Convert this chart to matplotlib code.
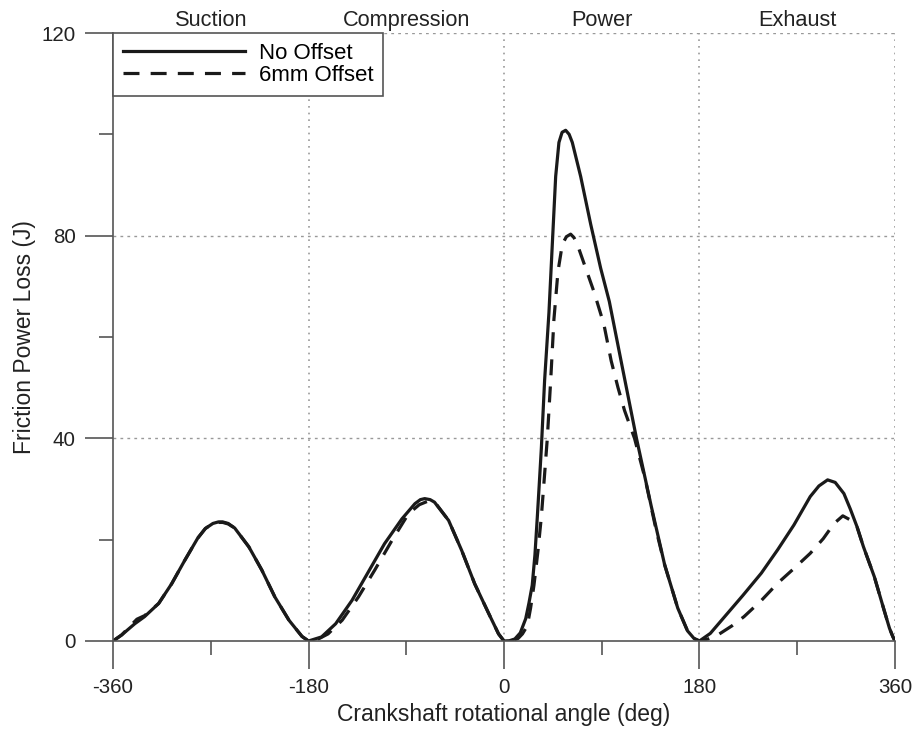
import numpy as np
import matplotlib
matplotlib.use('Agg')
import matplotlib.pyplot as plt
from matplotlib.ticker import MultipleLocator

plt.rcParams['font.family'] = ['Liberation Sans', 'DejaVu Sans']
plt.rcParams['axes.unicode_minus'] = False

# crank angle (deg) and friction power loss (J)
no_offset_deg = [-360, -352, -340, -331, -318, -306, -294, -282, -275, -268, -263, -259, -254, -248, -235, -223, -211, -198, -186, -180,
                 -168, -155, -140, -125, -110, -94, -82, -77, -73, -68, -64, -51, -39, -27, -14, -5, 0,
                 5, 10, 15, 20, 23, 26, 28.5, 30.7, 32.5, 34.4, 37.4, 41.4, 44.5, 47.6, 50.6, 53.5, 56.8, 60, 62.9,
                 70.6, 79.8, 89, 97, 109, 122, 135.5, 148, 160, 169, 175, 180,
                 190, 206, 220, 237, 252, 267, 282, 290, 298, 305, 313, 319, 325, 331, 341, 350, 355, 358, 360]
no_offset_val = [0, 1.2, 3.4, 4.8, 7.4, 11.3, 15.9, 20.3, 22.2, 23.2, 23.5, 23.5, 23.2, 22.3, 18.6, 14.0, 8.7, 4.1, 0.9, 0,
                 0.8, 3.4, 8.0, 13.6, 19.2, 24.1, 27.1, 27.9, 28.1, 27.9, 27.4, 23.8, 17.9, 11.3, 5.4, 1.4, 0,
                 0.05, 0.4, 1.6, 4.4, 7.5, 11, 17, 24.5, 31, 38, 51.4, 64.8, 78.3, 91.7, 98.4, 100.4, 100.8, 100, 98.4,
                 91.7, 82.3, 73.6, 67, 54, 40, 26.7, 15, 6.5, 2, 0.5, 0,
                 1.5, 5.5, 9, 13.4, 18, 22.9, 28.5, 30.6, 31.8, 31.3, 29.1, 26, 22.6, 18.6, 12.7, 6.1, 2.5, 0.9, 0]

offset_deg = [-360, -352, -344, -338, -331, -318, -306, -294, -282, -275, -268, -263, -259, -254, -248, -235, -223, -211, -198, -186, -180,
              -170, -162, -149, -134, -119, -103, -88, -78, -70, -63, -51, -39, -27, -14, -5, 0,
              8, 13, 17, 21.5, 24.5, 27.6, 31.3, 34.4, 36.8, 39.9, 43, 46, 49.7, 53.7, 57.5, 61.4, 64.5, 67.5,
              75.2, 82.9, 92, 98.7, 105, 111, 120.2, 130, 140, 148, 160, 169, 175, 180,
              188, 197, 210, 221, 237, 252, 268, 282, 294, 304, 312, 318, 322, 325, 331, 341, 350, 355, 358, 360]
offset_val = [0, 1.2, 3.0, 4.3, 5.0, 7.4, 11.3, 15.9, 20.3, 22.2, 23.2, 23.4, 23.4, 23.1, 22.3, 18.6, 14.0, 8.7, 4.1, 0.9, 0,
              0.5, 1.4, 4.1, 8.7, 14.0, 19.9, 25.1, 26.9, 27.6, 27.2, 23.8, 17.9, 11.3, 5.4, 1.4, 0,
              0.1, 0.5, 1.4, 3, 6.5, 11, 17.8, 24.5, 31.2, 40, 51.4, 63.5, 72.9, 78.3, 79.8, 80.3, 79.6, 78.3,
              73.6, 68.9, 62.5, 55.3, 50, 45.5, 40, 32, 22, 15, 6.5, 2, 0.5, 0,
              0.4, 1.2, 3, 4.8, 8, 11.4, 14.5, 17.3, 20.2, 23.2, 24.7, 24, 22.9, 22.6, 18.6, 12.7, 6.1, 2.5, 0.9, 0]

strokes = ['Suction', 'Compression', 'Power', 'Exhaust']
stroke_centres = [-270, -90, 90, 270]

fig = plt.figure(figsize=(9.16, 7.4), dpi=100)
ax = fig.add_axes([0.1234, 0.1338, 0.8536, 0.8216])

# dotted grid
for gx in [-180, 0, 180, 360]:
    ax.axvline(gx, color='#999999', ls=(0, (1, 3)), lw=1.2, zorder=0)
for gy in [40, 80, 120]:
    ax.axhline(gy, color='#999999', ls=(0, (2, 3)), lw=1.0, zorder=0)

ax.plot(no_offset_deg, no_offset_val, color='#1a1a1a', lw=2.3, label='No Offset')
ax.plot(offset_deg, offset_val, color='#1a1a1a', lw=2.3, ls=(0, (5, 3.5)), label='6mm Offset')

ax.set_xlim(-360, 360)
ax.set_ylim(0, 120)
ax.set_xticks([-360, -180, 0, 180, 360])
ax.set_yticks([0, 40, 80, 120])
ax.xaxis.set_minor_locator(MultipleLocator(90))
ax.yaxis.set_minor_locator(MultipleLocator(20))
ax.tick_params(which='major', direction='out', length=20, width=1.2, color='#555555',
               labelsize=14.8, labelcolor='#222222', pad=7)
ax.tick_params(which='minor', direction='out', length=10, width=1.2, color='#555555')
for side in ['top', 'right']:
    ax.spines[side].set_visible(False)
for side in ['left', 'bottom']:
    ax.spines[side].set_color('#555555')
    ax.spines[side].set_linewidth(1.2)
    ax.spines[side].set_zorder(5)

ax.set_xlabel('Crankshaft rotational angle (deg)', fontsize=16.5, color='#222222', labelpad=4)
ax.set_ylabel('Friction Power Loss (J)', fontsize=16.5, color='#222222', labelpad=4)

for name, cx in zip(strokes, stroke_centres):
    ax.text(cx, 1.004, name, transform=ax.get_xaxis_transform(), ha='center', va='bottom',
            fontsize=15.7, color='#222222')

leg = ax.legend(loc='upper left', fontsize=16, handlelength=5.5, borderaxespad=0,
                fancybox=False, framealpha=1, edgecolor='#555555', borderpad=0.45,
                labelspacing=0.05, handletextpad=0.6)
leg.get_frame().set_linewidth(1.2)
leg.set_zorder(6)

fig.savefig('out.png', dpi=100)
